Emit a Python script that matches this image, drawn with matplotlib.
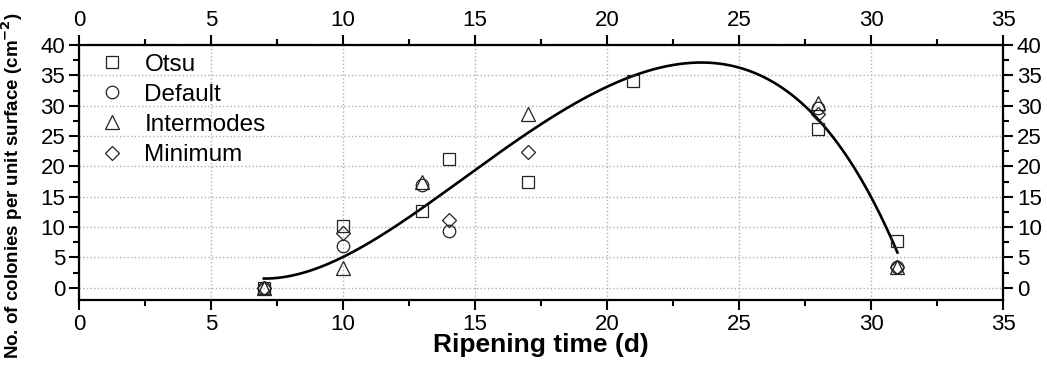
import numpy as np
import matplotlib
matplotlib.use('Agg')
import matplotlib.pyplot as plt
from matplotlib.ticker import MultipleLocator

plt.rcParams['font.family'] = ['Liberation Sans', 'DejaVu Sans']

nan = np.nan
days = [7, 10, 13, 14, 17, 21, 28, 31]
otsu = [0, 10.2, 12.7, 21.2, 17.4, 34.0, 26.2, 7.7]
default = [0, 6.9, 17.0, 9.3, nan, nan, 29.6, 3.4]
intermodes = [0, 3.2, 17.4, nan, 28.7, nan, 30.4, 3.4]
minimum = [0, 9.0, nan, 11.1, 22.4, nan, 28.7, 3.4]

# fitted curve
fit_x = [7, 10, 13, 15, 17.84, 20, 22, 23.25, 25, 28, 30, 30.7, 31]
fit_y = [1.5, 5.2, 13.0, 19.4, 27.9, 33.2, 36.4, 37.1, 35.9, 28.0, 15.0, 8.5, 6.0]

fig = plt.figure(figsize=(10.47, 3.67), dpi=100)
ax = fig.add_axes([0.0755, 0.1826, 0.8825, 0.6948])

ax.grid(True, which='major', linestyle=':', color='#b0b0b0', linewidth=1.0)
ax.set_axisbelow(True)

coef = np.polyfit(fit_x, fit_y, 5)
xs = np.linspace(7, 31, 300)
ax.plot(xs, np.polyval(coef, xs), color='black', linewidth=1.9, zorder=2)

mk = dict(linestyle='none', markerfacecolor='none', markeredgecolor='#222222',
          markeredgewidth=0.9, zorder=3)
ax.plot(days, otsu, marker='s', markersize=8, label='Otsu', **mk)
ax.plot(days, default, marker='o', markersize=9, label='Default', **mk)
ax.plot(days, intermodes, marker='^', markersize=10.5, label='Intermodes', **mk)
ax.plot(days, minimum, marker='D', markersize=7.5, label='Minimum', **mk)

ax.set_xlim(0, 35)
ax.set_ylim(-2, 40)
ax.xaxis.set_major_locator(MultipleLocator(5))
ax.xaxis.set_minor_locator(MultipleLocator(2.5))
ax.yaxis.set_major_locator(MultipleLocator(5))
ax.yaxis.set_minor_locator(MultipleLocator(2.5))
ax.tick_params(which='both', direction='out', top=True, right=True,
               labeltop=True, labelright=True, width=1.5, labelsize=16, pad=3)
ax.tick_params(which='major', length=7)
ax.tick_params(which='minor', length=4)
for s in ax.spines.values():
    s.set_linewidth(1.6)

ax.set_xlabel('Ripening time (d)', fontsize=19, fontweight='bold', labelpad=-1)
ax.set_ylabel('No. of colonies per unit surface (cm$^{\\mathbf{-2}}$)', fontsize=13.5,
              fontweight='bold')
ax.yaxis.set_label_coords(-0.058, 0.45)

leg = ax.legend(loc='upper left', frameon=False, fontsize=17.5, handletextpad=0.35,
                labelspacing=0.33, borderpad=0, borderaxespad=0,
                bbox_to_anchor=(0.009, 0.965))

fig.savefig('out.png', dpi=100)
